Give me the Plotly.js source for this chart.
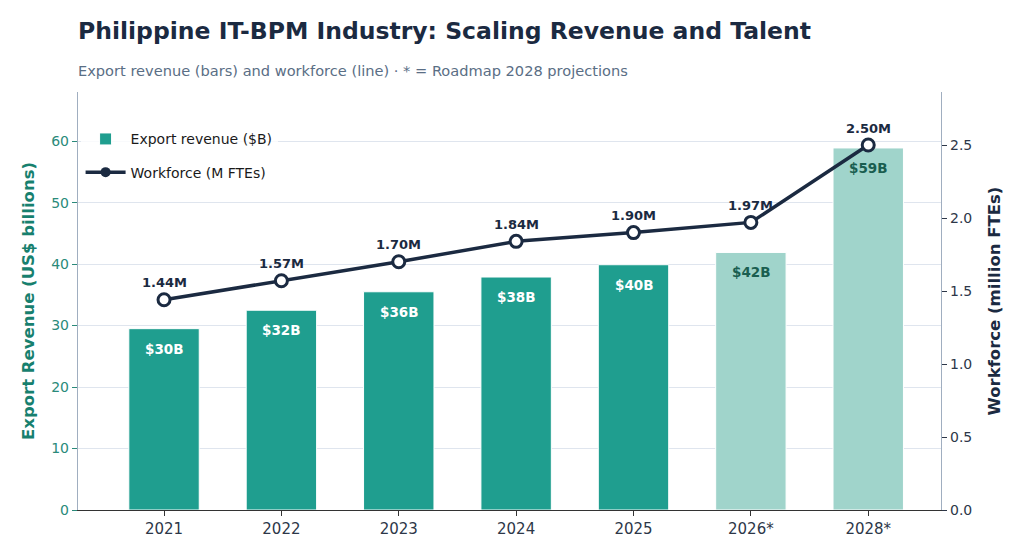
<!DOCTYPE html>
<html>
<head>
<meta charset="utf-8">
<script src="https://cdn.plot.ly/plotly-3.0.1.min.js"></script>
<style>html,body{margin:0;padding:0;background:#fff;}#chart{width:1024px;height:557px;}</style>
</head>
<body>
<div id="chart"></div>
<script>
const years = ["2021", "2022", "2023", "2024", "2025", "2026*", "2028*"];
const revenue = [29.5, 32.5, 35.5, 37.9, 39.9, 41.9, 58.9];
const revenueLabels = ["$30B", "$32B", "$36B", "$38B", "$40B", "$42B", "$59B"];
const workforce = [1.44, 1.57, 1.70, 1.84, 1.90, 1.97, 2.50];
const workforceLabels = ["1.44M", "1.57M", "1.70M", "1.84M", "1.90M", "1.97M", "2.50M"];
const projected = [false, false, false, false, false, true, true];

const TEAL = "#1f9e8f";
const TEAL_LIGHT = "#a0d4cb";
const NAVY = "#1b2a41";
const FONT = "DejaVu Sans, sans-serif";

const barColors = projected.map(p => p ? TEAL_LIGHT : TEAL);

const bars = {
  type: "bar",
  x: years,
  y: revenue,
  name: "Export revenue ($B)",
  marker: {color: barColors, line: {color: "#ffffff", width: 1}},
  width: 0.6,
  legendgroup: "a",
  hoverinfo: "skip"
};

const line = {
  type: "scatter",
  mode: "lines+markers",
  x: years,
  y: workforce,
  yaxis: "y2",
  name: "Workforce (M FTEs)",
  line: {color: NAVY, width: 3.5},
  marker: {size: 12, color: "#ffffff", line: {color: NAVY, width: 3}},
  showlegend: false,
  hoverinfo: "skip"
};

// legend-only entry for the line (filled marker, as in the legend of the original)
const lineLegend = {
  type: "scatter",
  mode: "lines+markers",
  x: [null],
  y: [null],
  yaxis: "y2",
  name: "Workforce (M FTEs)",
  line: {color: NAVY, width: 3.5},
  marker: {size: 10, color: NAVY},
  legendgroup: "b",
  hoverinfo: "skip"
};

const annotations = [];
years.forEach((yr, i) => {
  annotations.push({
    x: i, y: revenue[i], xref: "x", yref: "y",
    text: "<b>" + revenueLabels[i] + "</b>",
    showarrow: false, yshift: -20,
    font: {family: FONT, size: 13.5, color: projected[i] ? "#1a5e50" : "#ffffff"}
  });
  annotations.push({
    x: i, y: workforce[i], xref: "x", yref: "y2",
    text: "<b>" + workforceLabels[i] + "</b>",
    showarrow: false, yshift: 17,
    font: {family: FONT, size: 13, color: NAVY}
  });
});
annotations.push({
  xref: "paper", yref: "paper", x: 0, y: 440/418, xshift: -2,
  xanchor: "left", yanchor: "middle", showarrow: false,
  text: "Export revenue (bars) and workforce (line) · * = Roadmap 2028 projections",
  font: {family: FONT, size: 14.6, color: "#5a6e85"}
});

const layout = {
  width: 1024, height: 557,
  margin: {l: 78, r: 83, t: 92, b: 47},
  paper_bgcolor: "#ffffff",
  plot_bgcolor: "#ffffff",
  font: {family: FONT, color: "#333"},
  title: {
    text: "<b>Philippine IT-BPM Industry: Scaling Revenue and Talent</b>",
    x: 78/1024, xanchor: "left", xref: "container",
    y: 1 - 31/557, yanchor: "middle", yref: "container",
    font: {family: FONT, size: 23.5, color: NAVY}
  },
  xaxis: {
    type: "category",
    range: [-0.733, 6.62],
    showline: true, linecolor: "#333333", linewidth: 1.2,
    ticks: "outside", ticklen: 5, tickcolor: "#333333",
    tickfont: {family: FONT, size: 15, color: "#2d3748"},
    showgrid: false, zeroline: false
  },
  yaxis: {
    range: [0, 68],
    dtick: 10,
    showline: true, linecolor: "#a0aec0", linewidth: 1.2,
    ticks: "outside", ticklen: 5, tickcolor: "#2a8a7a",
    tickfont: {family: FONT, size: 14, color: "#2a8a7a"},
    showgrid: true, gridcolor: "#dfe5ee", gridwidth: 1,
    zeroline: false,
    title: {text: "<b>Export Revenue (US$ billions)</b>", standoff: 12,
            font: {family: FONT, size: 16.5, color: "#17806e"}}
  },
  yaxis2: {
    overlaying: "y", side: "right",
    range: [0, 2.863],
    dtick: 0.5, tickformat: ".1f",
    showline: true, linecolor: "#a0aec0", linewidth: 1.2,
    ticks: "outside", ticklen: 5, tickcolor: "#2d3748",
    tickfont: {family: FONT, size: 14, color: "#2d3748"},
    showgrid: false, zeroline: false,
    title: {text: "<b>Workforce (million FTEs)</b>", standoff: 17,
            font: {family: FONT, size: 16.5, color: NAVY}}
  },
  legend: {
    x: 0.003, y: 0.925, xanchor: "left", yanchor: "top",
    bgcolor: "rgba(255,255,255,0.8)",
    font: {family: FONT, size: 14, color: "#1a1a1a"},
    tracegroupgap: 12,
    itemwidth: 40,
    traceorder: "grouped"
  },
  showlegend: true,
  annotations: annotations,
  bargap: 0.4
};

Plotly.newPlot("chart", [bars, line, lineLegend], layout, {displayModeBar: false, staticPlot: true});
</script>
</body>
</html>
